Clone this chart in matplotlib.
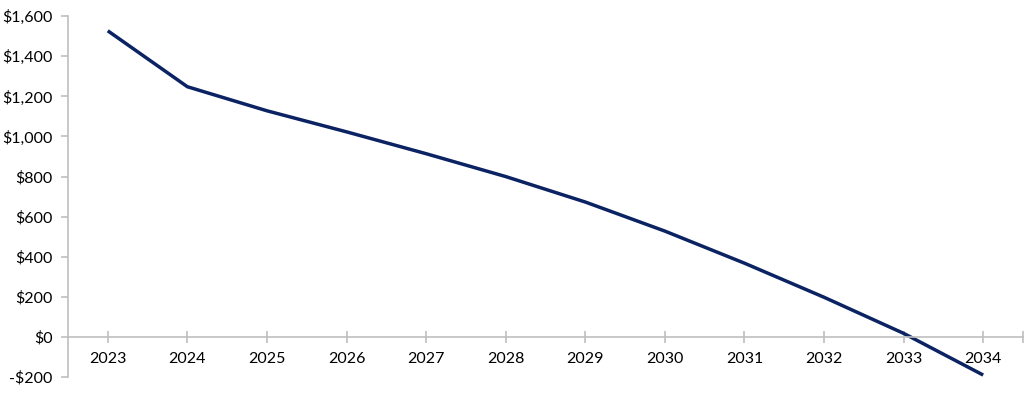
import matplotlib.pyplot as plt
from matplotlib.ticker import FuncFormatter

# ---- Data ----
years = ['2023', '2024', '2025', '2026', '2027', '2028',
         '2029', '2030', '2031', '2032', '2033', '2034']
values = [1527, 1248, 1128, 1023, 914, 800, 673, 528, 368, 198, 18, -190]

plt.rcParams['font.family'] = ['Lato', 'DejaVu Sans']

fig = plt.figure(figsize=(10.24, 3.94), dpi=100)
ax = fig.add_axes([0.0664, 0.043, 0.9326, 0.916])

x = list(range(len(years)))
ax.plot(x, values, color='#0B2363', linewidth=2.5, solid_capstyle='butt')

ax.set_xlim(-0.5, len(years) - 0.5)
ax.set_ylim(-200, 1600)
ax.set_yticks(range(-200, 1601, 200))
ax.yaxis.set_major_formatter(FuncFormatter(
    lambda v, p: f"-${abs(v):,.0f}" if v < 0 else f"${v:,.0f}"))

ax.set_xticks(x)
ax.set_xticklabels(years)
ax.set_xticks([len(years) - 0.5], minor=True)

# ---- Axes styling ----
axis_grey = '#BFBFBF'
for s in ['top', 'right']:
    ax.spines[s].set_visible(False)
ax.spines['bottom'].set_position(('data', 0))
ax.spines['bottom'].set_color(axis_grey)
ax.spines['left'].set_color(axis_grey)
ax.spines['bottom'].set_linewidth(1.2)
ax.spines['left'].set_linewidth(1.2)

ax.tick_params(axis='x', which='both', direction='inout', length=9, width=1.2,
               color=axis_grey, labelsize=11.5, pad=6)
ax.tick_params(axis='y', direction='out', length=5, width=1.2,
               color=axis_grey, labelsize=11.5, pad=6)

fig.savefig('out.png', dpi=100, facecolor='white')
